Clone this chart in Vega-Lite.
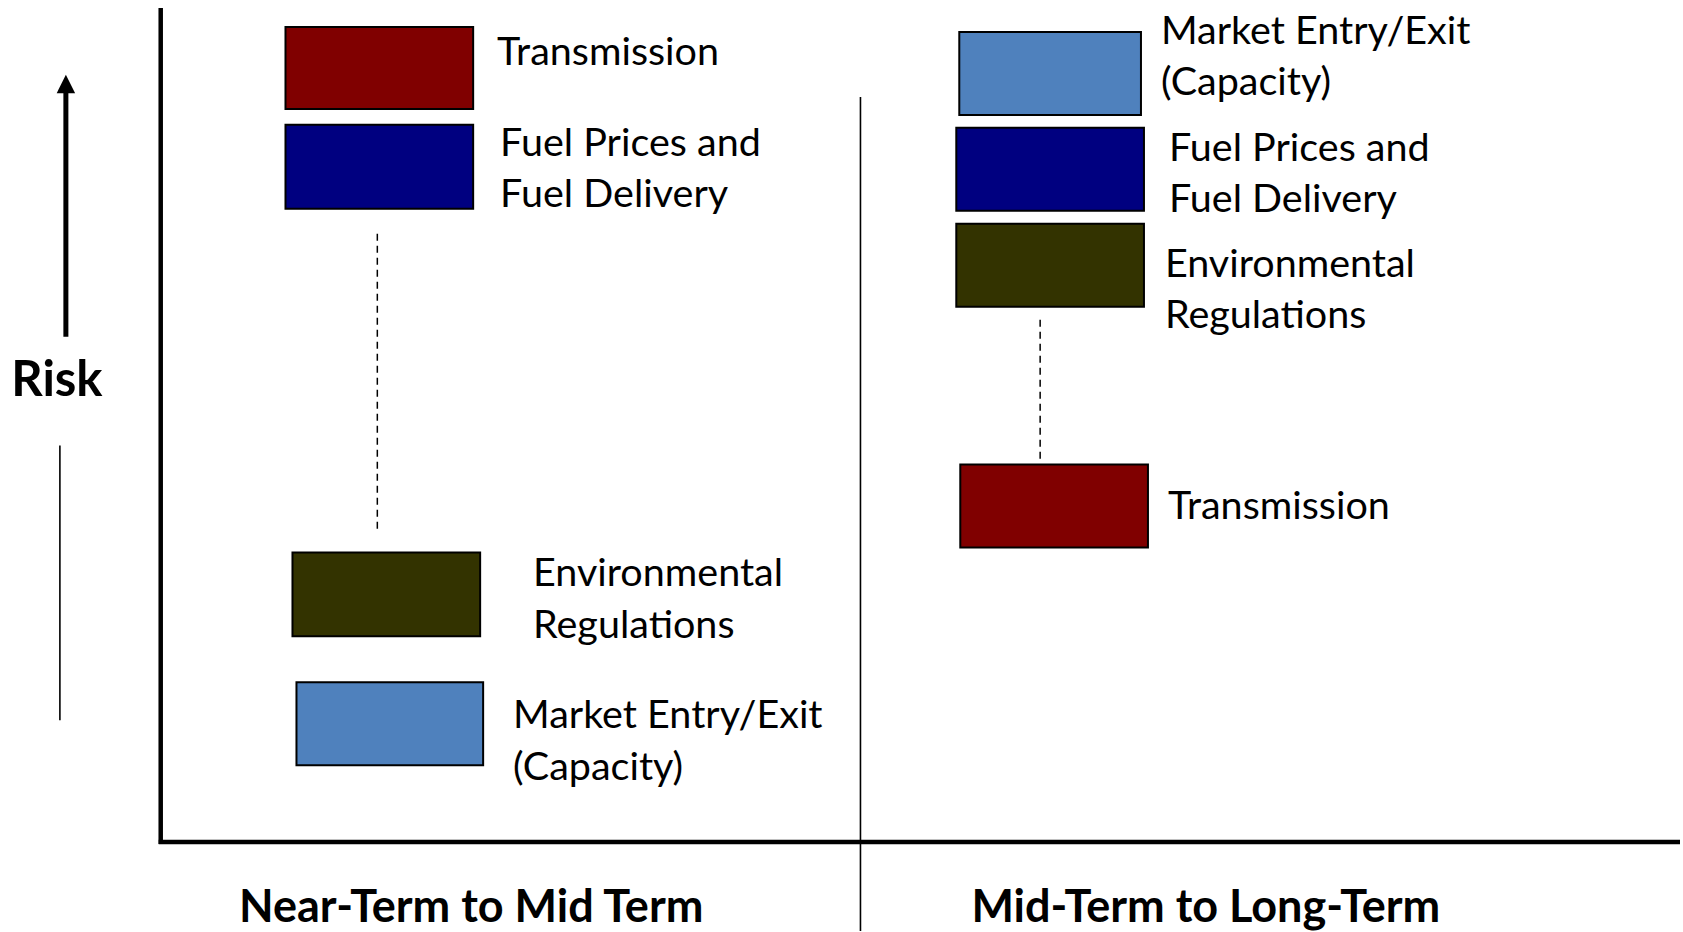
{
  "$schema": "https://vega.github.io/schema/vega-lite/v6.json",
  "width": 1683,
  "height": 932,
  "autosize": {"type": "fit", "contains": "padding"},
  "padding": 0,
  "background": "white",
  "config": {"view": {"stroke": null}},
  "datasets": {
    "frame": [
      {"x": 161, "y": 8, "x2": 161, "y2": 845},
      {"x": 159, "y": 843, "x2": 1683, "y2": 843}
    ],
    "thin": [
      {"x": 862, "y": 97, "x2": 862, "y2": 932},
      {"x": 60, "y": 446, "x2": 60, "y2": 721}
    ],
    "dashed": [
      {"x": 378, "y": 234, "x2": 378, "y2": 530},
      {"x": 1042, "y": 320, "x2": 1042, "y2": 461}
    ],
    "arrow": [
      {"x": 66, "tip": 84, "base": 337}
    ],
    "boxes": [
      {"horizon": "Near-Term to Mid Term", "factor": "Transmission", "x": 286, "x2": 474, "y": 27, "y2": 109},
      {"horizon": "Near-Term to Mid Term", "factor": "Fuel Prices and Fuel Delivery", "x": 286, "x2": 474, "y": 125, "y2": 209},
      {"horizon": "Near-Term to Mid Term", "factor": "Environmental Regulations", "x": 293, "x2": 481, "y": 553, "y2": 637},
      {"horizon": "Near-Term to Mid Term", "factor": "Market Entry/Exit (Capacity)", "x": 297, "x2": 484, "y": 683, "y2": 766},
      {"horizon": "Mid-Term to Long-Term", "factor": "Market Entry/Exit (Capacity)", "x": 961, "x2": 1143, "y": 32, "y2": 115},
      {"horizon": "Mid-Term to Long-Term", "factor": "Fuel Prices and Fuel Delivery", "x": 958, "x2": 1146, "y": 128, "y2": 211},
      {"horizon": "Mid-Term to Long-Term", "factor": "Environmental Regulations", "x": 958, "x2": 1146, "y": 224, "y2": 307},
      {"horizon": "Mid-Term to Long-Term", "factor": "Transmission", "x": 962, "x2": 1150, "y": 465, "y2": 548}
    ],
    "labels": [
      {"x": 498, "y": 65, "label": ["Transmission"]},
      {"x": 501, "y": 156, "label": ["Fuel Prices and", "Fuel Delivery"]},
      {"x": 534, "y": 587, "label": ["Environmental", "Regulations"]},
      {"x": 514, "y": 729, "label": ["Market Entry/Exit", "(Capacity)"]},
      {"x": 1163, "y": 44, "label": ["Market Entry/Exit", "(Capacity)"]},
      {"x": 1171, "y": 161, "label": ["Fuel Prices and", "Fuel Delivery"]},
      {"x": 1167, "y": 277, "label": ["Environmental", "Regulations"]},
      {"x": 1170, "y": 520, "label": ["Transmission"]}
    ],
    "titles": [
      {"x": 472, "y": 923, "label": "Near-Term to Mid Term"},
      {"x": 1208, "y": 923, "label": "Mid-Term to Long-Term"}
    ],
    "risk": [
      {"x": 57, "y": 396, "label": "Risk"}
    ]
  },
  "layer": [
    {
      "data": {"name": "frame"},
      "mark": {"type": "rule", "color": "black", "strokeWidth": 4.5},
      "encoding": {
        "x": {"field": "x", "type": "quantitative", "scale": {"domain": [0, 1683], "nice": false, "zero": false}, "axis": null},
        "x2": {"field": "x2"},
        "y": {"field": "y", "type": "quantitative", "scale": {"domain": [0, 932], "nice": false, "zero": false, "reverse": true}, "axis": null},
        "y2": {"field": "y2"}
      }
    },
    {
      "data": {"name": "thin"},
      "mark": {"type": "rule", "color": "black", "strokeWidth": 1.6},
      "encoding": {
        "x": {"field": "x", "type": "quantitative"},
        "x2": {"field": "x2"},
        "y": {"field": "y", "type": "quantitative"},
        "y2": {"field": "y2"}
      }
    },
    {
      "data": {"name": "dashed"},
      "mark": {"type": "rule", "color": "black", "strokeWidth": 1.5, "strokeDash": [7, 5]},
      "encoding": {
        "x": {"field": "x", "type": "quantitative"},
        "x2": {"field": "x2"},
        "y": {"field": "y", "type": "quantitative"},
        "y2": {"field": "y2"}
      }
    },
    {
      "data": {"name": "arrow"},
      "mark": {"type": "rule", "color": "black", "strokeWidth": 5},
      "encoding": {
        "x": {"field": "x", "type": "quantitative"},
        "y": {"field": "tip", "type": "quantitative"},
        "y2": {"field": "base"}
      }
    },
    {
      "data": {"name": "arrow"},
      "mark": {"type": "point", "shape": "M0,-1L1,1L-1,1Z", "filled": true, "color": "black", "opacity": 1, "size": 340},
      "encoding": {
        "x": {"field": "x", "type": "quantitative"},
        "y": {"field": "tip", "type": "quantitative"}
      }
    },
    {
      "data": {"name": "boxes"},
      "mark": {"type": "rect", "stroke": "black", "strokeWidth": 2},
      "encoding": {
        "x": {"field": "x", "type": "quantitative"},
        "x2": {"field": "x2"},
        "y": {"field": "y", "type": "quantitative"},
        "y2": {"field": "y2"},
        "fill": {
          "field": "factor",
          "type": "nominal",
          "scale": {
            "domain": ["Transmission", "Fuel Prices and Fuel Delivery", "Environmental Regulations", "Market Entry/Exit (Capacity)"],
            "range": ["#800000", "#000080", "#333300", "#4F81BD"]
          },
          "legend": null
        }
      }
    },
    {
      "data": {"name": "labels"},
      "mark": {"type": "text", "font": "Lato", "fontSize": 39.5, "align": "left", "baseline": "alphabetic", "lineHeight": 51.5, "color": "black"},
      "encoding": {
        "x": {"field": "x", "type": "quantitative"},
        "y": {"field": "y", "type": "quantitative"},
        "text": {"field": "label", "type": "nominal"}
      }
    },
    {
      "data": {"name": "titles"},
      "mark": {"type": "text", "font": "Lato", "fontWeight": "bold", "fontSize": 45, "align": "center", "baseline": "alphabetic", "color": "black"},
      "encoding": {
        "x": {"field": "x", "type": "quantitative"},
        "y": {"field": "y", "type": "quantitative"},
        "text": {"field": "label", "type": "nominal"}
      }
    },
    {
      "data": {"name": "risk"},
      "mark": {"type": "text", "font": "Lato", "fontWeight": "bold", "fontSize": 49, "align": "center", "baseline": "alphabetic", "color": "black"},
      "encoding": {
        "x": {"field": "x", "type": "quantitative"},
        "y": {"field": "y", "type": "quantitative"},
        "text": {"field": "label", "type": "nominal"}
      }
    }
  ]
}
